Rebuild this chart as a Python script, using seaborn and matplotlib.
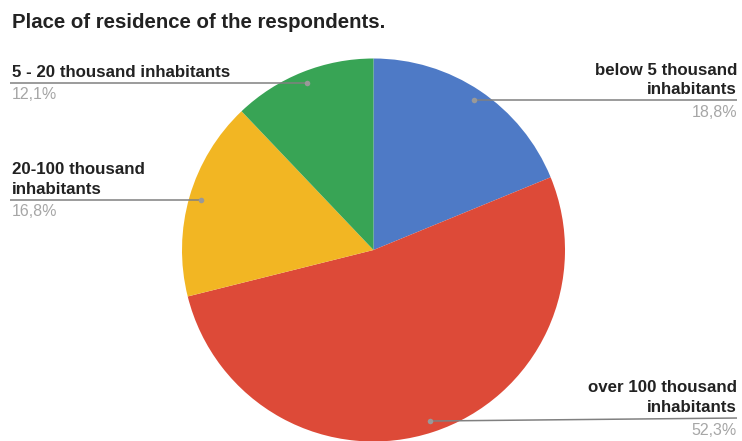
import numpy as np
import matplotlib
matplotlib.use("Agg")
import matplotlib.pyplot as plt
import seaborn as sns

categories = ["below 5 thousand\ninhabitants", "over 100 thousand\ninhabitants",
              "20-100 thousand\ninhabitants", "5 - 20 thousand inhabitants"]
values = [18.8, 52.3, 16.8, 12.1]
pct_labels = ["18,8%", "52,3%", "16,8%", "12,1%"]
colors = ["#4e7ac6", "#dd4a38", "#f2b623", "#38a455"]

sns.set_theme(style="white")
plt.rcParams['font.family'] = ['Liberation Sans', 'DejaVu Sans']

W, H = 742, 441
fig = plt.figure(figsize=(W / 100, H / 100), dpi=100)

cx, cy, r = 373.5, 250.0, 191.5
ax = fig.add_axes([(cx - r) / W, (H - cy - r) / H, 2 * r / W, 2 * r / H])
ax.pie(values, colors=colors, startangle=90, counterclock=False, radius=1,
       wedgeprops=dict(linewidth=0))
ax.set_xlim(-1, 1)
ax.set_ylim(-1, 1)
ax.set_aspect("equal")
ax.axis("off")

ov = fig.add_axes([0, 0, 1, 1], facecolor="none")
ov.set_xlim(0, W)
ov.set_ylim(H, 0)
ov.axis("off")

fig.text(12 / W, 1 - 23 / H, "Place of residence of the respondents.", fontsize=14.7,
         fontweight="bold", color="#222222", va="center", ha="left")

sides = ["right", "right", "left", "left"]
line_dy = [0, -3, 0, 0]
total = sum(values)
cum = 0
for i, v in enumerate(values):
    mid = (cum + v / 2) / total * 2 * np.pi
    cum += v
    dx = cx + 0.94 * r * np.sin(mid)
    dy = cy - 0.94 * r * np.cos(mid)
    if sides[i] == "right":
        ov.plot([dx, 737], [dy, dy + line_dy[i]], color="#808080", lw=1.1, solid_capstyle="butt")
        tx, ha = 737, "right"
    else:
        ov.plot([10, dx], [dy, dy], color="#808080", lw=1.1, solid_capstyle="butt")
        tx, ha = 12, "left"
    ov.plot([dx], [dy], "o", color="#999999", ms=4, mec="none")
    ly = dy + line_dy[i]
    ov.text(tx, ly - 3, categories[i], ha=ha, va="bottom", fontsize=12.2,
            fontweight="bold", color="#222222", linespacing=1.38)
    ov.text(tx, ly + 4.5, pct_labels[i], ha=ha, va="top", fontsize=11.5,
            color="#a6a6a6")

fig.savefig("out.png", dpi=100)
